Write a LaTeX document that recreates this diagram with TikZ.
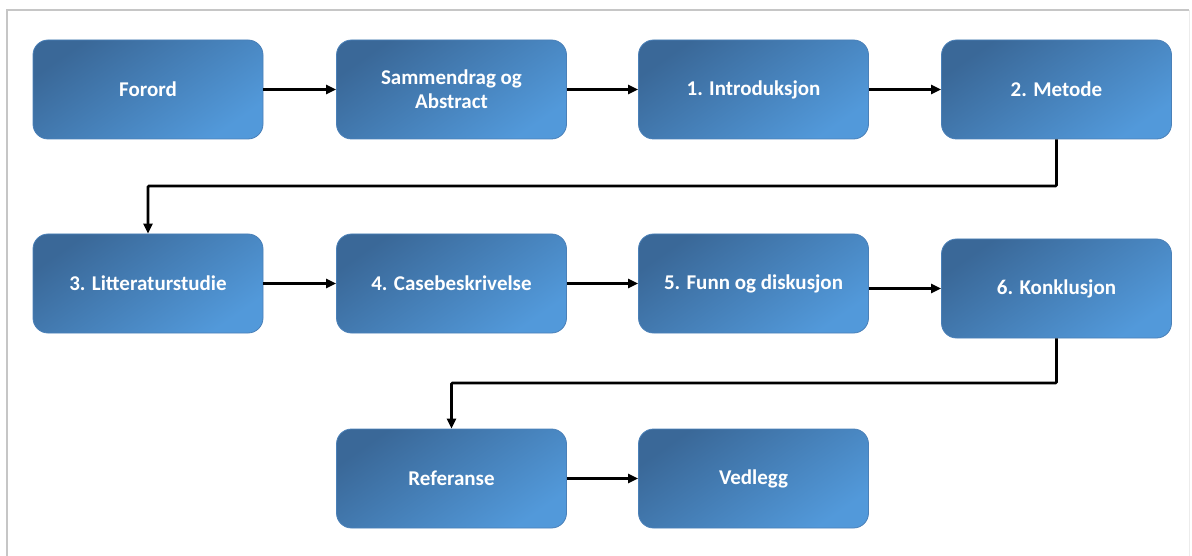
\documentclass[tikz,border=0pt]{standalone}
\usepackage{fontspec}
\setmainfont{Carlito}
\usetikzlibrary{arrows.meta}
\definecolor{boxdark}{HTML}{3A6898}
\definecolor{boxlight}{HTML}{5299DA}
\definecolor{boxedge}{HTML}{4A80B8}
\begin{document}
\begin{tikzpicture}[x=1pt,y=-1pt,
  stage/.style={rectangle, rounded corners=15pt, minimum width=230pt, minimum height=99pt,
    shade, top color=boxdark, bottom color=boxlight, shading angle=35,
    draw=boxedge, line width=0.8pt, text=white, align=center,
    font=\bfseries\fontsize{21}{24}\selectfont, inner sep=0pt},
  flow/.style={line width=2.8pt, -{Triangle[length=10pt,width=9pt]}}]
  \useasboundingbox (0,0) rectangle (1192,556);
  % page frame
  \draw[gray!45, line width=1.2pt] (7,560) -- (7,10) -- (1189,10);
  \draw[gray!15, line width=1pt] (1189,10) -- (1189,560);
  % first row
  \node[stage] (forord) at (148,89.5) {Forord};
  \node[stage] (samm) at (451.5,89.5) {Sammendrag og\\Abstract};
  \node[stage] (intro) at (753.5,89.5) {1. Introduksjon};
  \node[stage] (metode) at (1056.5,89.5) {2. Metode};
  % second row
  \node[stage] (litt) at (148,283.5) {3. Litteraturstudie};
  \node[stage] (case) at (451.5,283.5) {4. Casebeskrivelse};
  \node[stage] (funn) at (753.5,283.5) {5. Funn og diskusjon};
  \node[stage] (konk) at (1056.5,288.5) {6. Konklusjon};
  % third row
  \node[stage] (ref) at (451.5,478.5) {Referanse};
  \node[stage] (vedl) at (753.5,478.5) {Vedlegg};
  % bends between rows
  \coordinate (bend1) at (600,186);
  \coordinate (bend2) at (700,383);
  % connectors
  \draw[flow] (forord) -- (samm);
  \draw[flow] (samm) -- (intro);
  \draw[flow] (intro) -- (metode);
  \draw[flow, rounded corners=1pt] (metode.south) |- (bend1) -| (litt.north);
  \draw[flow] (litt) -- (case);
  \draw[flow] (case) -- (funn);
  \draw[flow] (funn.east |- konk) -- (konk.west);
  \draw[flow, rounded corners=1pt] (konk.south) |- (bend2) -| (ref.north);
  \draw[flow] (ref) -- (vedl);
\end{tikzpicture}
\end{document}
